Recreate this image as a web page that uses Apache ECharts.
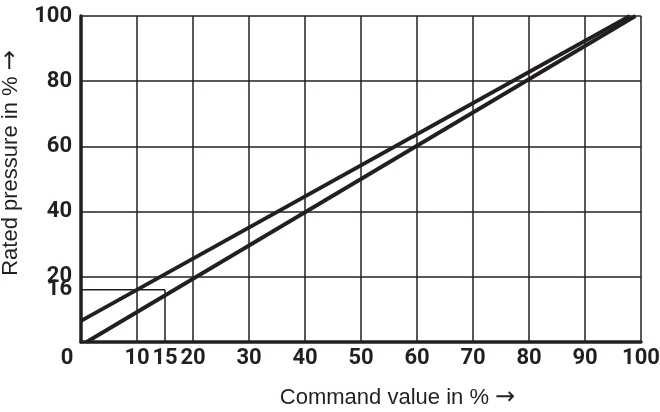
<!DOCTYPE html>
<html><head><meta charset="utf-8">
<script src="https://cdn.jsdelivr.net/npm/echarts@6/dist/echarts.min.js"></script>
<style>html,body{margin:0;padding:0;background:#fff}#c{width:660px;height:412px}</style>
</head><body><div id="c"></div>
<script>
// Tick labels
const xTickLabels = [0, 10, 15, 20, 30, 40, 50, 60, 70, 80, 90, 100];
const yTickLabels = [20, 40, 60, 80, 100];
const yExtraTickLabels = [16];
// Characteristic curves (command value %, rated pressure %)
const upperCurve = [[0, 6.5], [98, 100]];
const lowerCurve = [[1, 0], [99, 100]];
// Reading-example helper lines
const helperVertical = [[15, 0], [15, 16]];
const helperHorizontal = [[0, 16], [15, 16]];

const INK = '#231f20';
const chart = echarts.init(document.getElementById('c'), null, {renderer: 'canvas'});
const labelFont = {fontFamily: 'Roboto', fontWeight: 'bold', fontSize: 22, color: INK};
const nameFont = {fontFamily: 'Liberation Sans', fontSize: 22, color: INK};
const arrowRich = {a: {fontFamily: 'DejaVu Sans', fontSize: 24, color: INK}};
const lineSeries = (data, w) => ({
  type: 'line', data: data, symbol: 'none', silent: true,
  lineStyle: {color: INK, width: w}, z: w > 2 ? 5 : 3
});
chart.setOption({
  animation: false,
  grid: {left: 81, right: 19, top: 16, bottom: 70, containLabel: false, outerBoundsMode: 'none'},
  xAxis: {
    type: 'value', min: 0, max: 100, interval: 10,
    name: 'Command value in % {a|\u2192}', nameLocation: 'middle', nameGap: 44,
    nameTextStyle: Object.assign({padding: [0, 0, 0, 73], rich: arrowRich}, nameFont),
    axisLine: {show: true, onZero: false, lineStyle: {color: INK, width: 3.5}},
    axisTick: {show: false},
    axisLabel: Object.assign({
      customValues: xTickLabels, margin: 5, hideOverlap: false,
      formatter: v => v === 0 ? '{z|0}' : String(v),
      rich: {z: Object.assign({padding: [0, 28, 0, 0]}, labelFont)}
    }, labelFont),
    splitLine: {show: true, lineStyle: {color: INK, width: 1.5}}
  },
  yAxis: [{
    type: 'value', min: 0, max: 100, interval: 20,
    name: 'Rated pressure in % {a|\u2192}', nameLocation: 'middle', nameGap: 47,
    nameTextStyle: Object.assign({padding: [0, 0, 0, 32], rich: arrowRich}, nameFont),
    axisLine: {show: true, onZero: false, lineStyle: {color: INK, width: 3.5}},
    axisTick: {show: false},
    axisLabel: Object.assign({customValues: yTickLabels, margin: 9, hideOverlap: false}, labelFont),
    splitLine: {show: true, lineStyle: {color: INK, width: 1.5}}
  }, {
    type: 'value', min: 0, max: 100, interval: 20, position: 'left',
    axisLine: {show: false}, axisTick: {show: false}, splitLine: {show: false},
    axisLabel: Object.assign({customValues: yExtraTickLabels, margin: 9, hideOverlap: false}, labelFont)
  }],
  series: [
    lineSeries(helperVertical, 1.5),
    lineSeries(helperHorizontal, 1.5),
    lineSeries(upperCurve, 3.8),
    lineSeries(lowerCurve, 3.8)
  ]
});
</script></body></html>
